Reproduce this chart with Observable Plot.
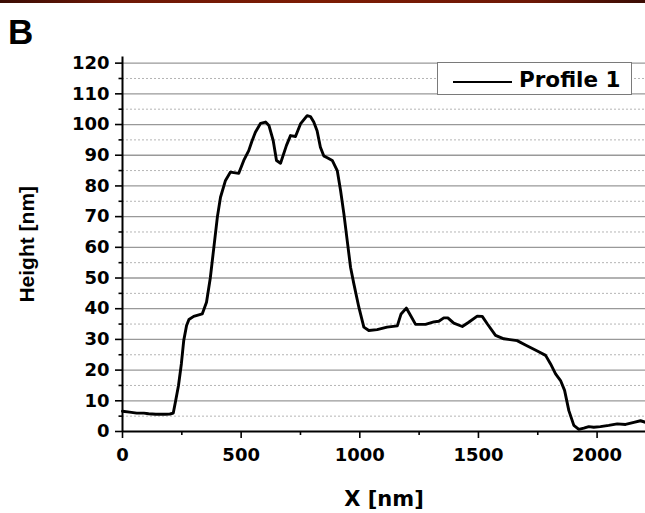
<!DOCTYPE html>
<html>
<head>
<meta charset="utf-8">
<script src="https://cdn.jsdelivr.net/npm/d3@7"></script>
<script src="https://cdn.jsdelivr.net/npm/@observablehq/plot@0.6"></script>
<style>
  body { margin: 0; background: #fff; }
  #wrap { position: relative; width: 645px; height: 513px; overflow: hidden; background: #fff; }
  #strip { position: absolute; left: 0; top: 0; width: 645px; height: 3px;
    background: linear-gradient(to right, #3a0c04, #6e1806 18%, #7c1c04 50%, #6e1806 82%, #3a0c04); }
  #panel { position: absolute; left: 8px; top: 13.5px; font: bold 35px/1 "Liberation Sans", Arial, sans-serif; color: #000; }
  #chart { position: absolute; left: 0; top: 0; }
  #legend { position: absolute; left: 437px; top: 62px; width: 195px; height: 33px; box-sizing: border-box;
    border: 1px solid #7a7a7a; background: #fff; }
  #legend .swatch { position: absolute; left: 15px; top: 17.5px; width: 59px; height: 0; border-top: 2.6px solid #000; }
  #legend .label { position: absolute; left: 81px; top: 6.1px; font: bold 21.5px/1 "DejaVu Sans", sans-serif; color: #000; white-space: nowrap; }
</style>
</head>
<body>
<div id="wrap">
  <div id="strip"></div>
  <div id="panel">B</div>
  <div id="chart"></div>
  <div id="legend"><span class="swatch"></span><span class="label"></span></div>
</div>
<script>
// Height profile along the scan line
const seriesName = "Profile 1";
const distanceNm = [
  0, 30, 60, 90, 110, 140, 180, 200, 214, 224, 236, 248, 258, 270, 280, 300, 336, 354, 370, 385,
  400, 413, 434, 455, 490, 511, 532, 545, 560, 582, 603, 617, 635, 649, 666, 691, 708, 729, 750, 778,
  792, 806, 820, 834, 848, 863, 884, 905, 919, 933, 947, 961, 975, 996, 1017, 1038, 1073, 1115, 1158, 1174,
  1196, 1214, 1235, 1277, 1312, 1333, 1354, 1371, 1396, 1432, 1459, 1495, 1516, 1537, 1572, 1607, 1663, 1698, 1748, 1783,
  1804, 1825, 1846, 1863, 1881, 1902, 1923, 1944, 1965, 1986, 2014, 2049, 2085, 2120, 2155, 2183, 2204
];
const heightNm = [
  6.6, 6.3, 6.0, 6.0, 5.8, 5.6, 5.6, 5.7, 6.0, 10, 15, 22, 29.6, 34.5, 36.5, 37.5, 38.3, 42.1, 50, 60,
  70, 76.3, 81.8, 84.5, 84.1, 88.3, 91.5, 94.5, 97.5, 100.4, 100.8, 99.7, 94.8, 88.3, 87.4, 93.2, 96.4, 96.1, 100.2, 102.9,
  102.6, 100.8, 98, 92.6, 89.8, 89.2, 88.3, 85.0, 78.5, 70.9, 62.2, 53.5, 48.1, 40.5, 34, 32.9, 33.2, 34, 34.4, 38.3,
  40.2, 37.8, 34.9, 34.9, 35.7, 35.9, 37, 37, 35.3, 34.2, 35.6, 37.6, 37.5, 35.1, 31.3, 30.2, 29.6, 28.2, 26.2, 24.8,
  22, 18.8, 16.6, 13.4, 6.8, 2, 0.7, 1.1, 1.6, 1.4, 1.6, 2, 2.5, 2.3, 3, 3.5, 3
];

// Axis ticks
const xMajorTicks = [0, 500, 1000, 1500, 2000];
const xMinorTicks = [250, 750, 1250, 1750];
const yMajorTicks = [0, 10, 20, 30, 40, 50, 60, 70, 80, 90, 100, 110, 120];
const yMinorTicks = [5, 15, 25, 35, 45, 55, 65, 75, 85, 95, 105, 115];
const xTitle = "X [nm]";
const yTitle = "Height [nm]";

const profile = distanceNm.map((x, i) => ({x, y: heightNm[i]}));

const tickFont = {fontSize: 18, fontWeight: "bold", fontFamily: "DejaVu Sans", tickFormat: d => String(d)};

const chart = Plot.plot({
  width: 645,
  height: 513,
  marginLeft: 122,
  marginRight: 0,
  marginTop: 56.5,
  marginBottom: 82,
  style: {background: "transparent", color: "#000", overflow: "visible"},
  x: {domain: [0, 2204]},
  y: {domain: [0, 122]},
  marks: [
    // grid: dotted half-steps, solid full steps
    Plot.ruleY(yMinorTicks, {stroke: "#b5b5b5", strokeWidth: 1, strokeDasharray: "2,2"}),
    Plot.ruleY(yMajorTicks.filter(d => d > 0), {stroke: "#999", strokeWidth: 1.3}),
    // the profile curve
    Plot.line(profile, {x: "x", y: "y", stroke: "#000", strokeWidth: 2.9, strokeLinejoin: "round", strokeLinecap: "round"}),
    // axes
    Plot.axisY(yMajorTicks, {tickSize: 7, tickPadding: 6, strokeWidth: 1.6, label: null, ...tickFont}),
    Plot.axisY(yMinorTicks, {tickSize: 3.5, text: null, strokeWidth: 1.6, label: null}),
    Plot.axisY([], {label: yTitle, labelAnchor: "center", labelOffset: 103, labelArrow: false,
      fontSize: 21, fontWeight: "bold", fontFamily: "Liberation Sans"}),
    Plot.axisX(xMajorTicks, {tickSize: 7, tickPadding: 10, strokeWidth: 1.6, label: null, ...tickFont}),
    Plot.axisX(xMinorTicks, {tickSize: 4, text: null, strokeWidth: 1.6, label: null}),
    Plot.axisX([], {label: xTitle, labelAnchor: "center", labelOffset: 74, labelArrow: false,
      fontSize: 21, fontWeight: "bold", fontFamily: "DejaVu Sans"}),
    Plot.ruleX([0], {stroke: "#000", strokeWidth: 2}),
    Plot.ruleY([0], {stroke: "#000", strokeWidth: 2})
  ]
});

document.getElementById("chart").appendChild(chart);
document.querySelector("#legend .label").textContent = seriesName;
</script>
</body>
</html>
